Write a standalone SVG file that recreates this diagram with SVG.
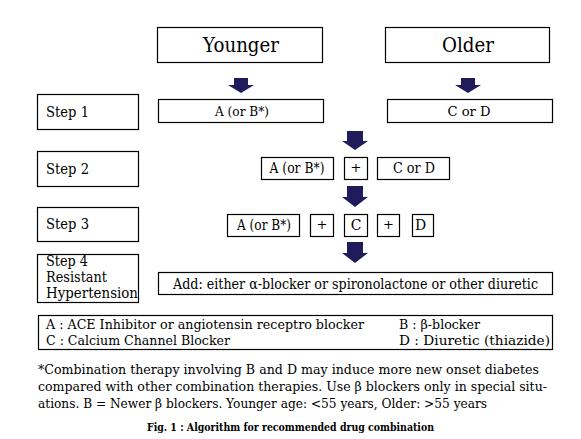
<svg xmlns="http://www.w3.org/2000/svg" width="581" height="439" viewBox="0 0 581 439">
<style>
.b{fill:#fff;stroke:#000;stroke-width:1.2}
.t{font-family:'DejaVu Serif','Liberation Serif',serif;fill:#000}
.c{text-anchor:middle}
.ar{fill:#201c5c}
</style>
<rect width="581" height="439" fill="#fff"/>
<g id="connectors">
<path class="ar" d="M234,78H248V85H254L241,93L228,85H234Z"/>
<path class="ar" d="M461,78H475V85H481L468,93L455,85H461Z"/>
<path class="ar" d="M347,131H363V141H368L355,150L342,141H347Z"/>
<path class="ar" d="M347,186H363V197H368L355,207L342,197H347Z"/>
<path class="ar" d="M347,242H363V253H368L355,263L342,253H347Z"/>
</g>
<g id="younger"><rect class="b" x="157.5" y="27.5" width="165" height="35"/><text class="t c" x="241" y="52" font-size="20" textLength="76" lengthAdjust="spacingAndGlyphs">Younger</text></g>
<g id="older"><rect class="b" x="385.5" y="27.5" width="164" height="35"/><text class="t c" x="468" y="52" font-size="20" textLength="52" lengthAdjust="spacingAndGlyphs">Older</text></g>
<g id="step1"><rect class="b" x="37.5" y="94.5" width="101" height="35"/><text class="t" x="46" y="117" font-size="15" textLength="43" lengthAdjust="spacingAndGlyphs">Step 1</text></g>
<g id="s1a"><rect class="b" x="158.5" y="99.5" width="165" height="23"/><text class="t c" x="242" y="116" font-size="13" textLength="54" lengthAdjust="spacingAndGlyphs">A (or B*)</text></g>
<g id="s1c"><rect class="b" x="387.5" y="99.5" width="165" height="23"/><text class="t c" x="469" y="116" font-size="13" textLength="43" lengthAdjust="spacingAndGlyphs">C or D</text></g>
<g id="step2"><rect class="b" x="37.5" y="151.5" width="101" height="35"/><text class="t" x="46" y="174" font-size="15" textLength="43" lengthAdjust="spacingAndGlyphs">Step 2</text></g>
<g id="s2a"><rect class="b" x="261.5" y="157.5" width="72" height="22"/><text class="t c" x="297" y="173" font-size="14" textLength="55" lengthAdjust="spacingAndGlyphs">A (or B*)</text></g>
<g id="s2p"><rect class="b" x="344.5" y="157.5" width="23" height="22"/><text class="t c" x="356" y="172" font-size="13">+</text></g>
<g id="s2c"><rect class="b" x="377.5" y="157.5" width="72" height="22"/><text class="t c" x="414" y="173" font-size="14" textLength="42" lengthAdjust="spacingAndGlyphs">C or D</text></g>
<g id="step3"><rect class="b" x="37.5" y="207.5" width="101" height="34"/><text class="t" x="46" y="229" font-size="15" textLength="43" lengthAdjust="spacingAndGlyphs">Step 3</text></g>
<g id="s3a"><rect class="b" x="227.5" y="214.5" width="72" height="22"/><text class="t c" x="264" y="230" font-size="14" textLength="54" lengthAdjust="spacingAndGlyphs">A (or B*)</text></g>
<g id="s3p1"><rect class="b" x="310.5" y="214.5" width="23" height="22"/><text class="t c" x="322" y="229" font-size="13">+</text></g>
<g id="s3c"><rect class="b" x="344.5" y="214.5" width="23" height="22"/><text class="t c" x="356" y="230" font-size="14">C</text></g>
<g id="s3p2"><rect class="b" x="377.5" y="214.5" width="22" height="22"/><text class="t c" x="388.5" y="229" font-size="13">+</text></g>
<g id="s3d"><rect class="b" x="412.5" y="214.5" width="21" height="22"/><text class="t" x="415" y="230" font-size="14">D</text></g>
<g id="step4"><rect class="b" x="37.5" y="254.5" width="101" height="48"/>
<text class="t" x="46" y="266" font-size="14" textLength="42" lengthAdjust="spacingAndGlyphs">Step 4</text>
<text class="t" x="46" y="282" font-size="14" textLength="61" lengthAdjust="spacingAndGlyphs">Resistant</text>
<text class="t" x="46" y="298" font-size="14" textLength="92" lengthAdjust="spacingAndGlyphs">Hypertension</text></g>
<g id="step4add"><rect class="b" x="158.5" y="272.5" width="394" height="22"/><text class="t" x="173" y="289" font-size="14" textLength="365" lengthAdjust="spacingAndGlyphs">Add: either α-blocker or spironolactone or other diuretic</text></g>
<g id="legend"><rect class="b" x="38.5" y="315.5" width="514" height="34"/>
<text class="t" x="46" y="329" font-size="13" textLength="318" lengthAdjust="spacingAndGlyphs">A : ACE Inhibitor or angiotensin receptro blocker</text>
<text class="t" x="46" y="345" font-size="13" textLength="184" lengthAdjust="spacingAndGlyphs">C : Calcium Channel Blocker</text>
<text class="t" x="399" y="329" font-size="13" textLength="81" lengthAdjust="spacingAndGlyphs">B : β-blocker</text>
<text class="t" x="399" y="345" font-size="13" textLength="151" lengthAdjust="spacingAndGlyphs">D : Diuretic (thiazide)</text></g>
<g id="footnote">
<text class="t" x="38" y="374" font-size="12.5" textLength="501" lengthAdjust="spacingAndGlyphs">*Combination therapy involving B and D may induce more new onset diabetes</text>
<text class="t" x="38" y="391" font-size="12" textLength="509" lengthAdjust="spacingAndGlyphs">compared with other combination therapies.  Use β blockers only in special situ-</text>
<text class="t" x="38" y="408" font-size="12.5" textLength="449" lengthAdjust="spacingAndGlyphs">ations.  B = Newer β blockers. Younger age: &lt;55 years, Older: &gt;55 years</text>
</g>
<g id="caption"><text class="t" x="147" y="431" font-size="11" font-weight="bold" textLength="287" lengthAdjust="spacingAndGlyphs">Fig. 1 : Algorithm for recommended drug combination</text></g>
</svg>
